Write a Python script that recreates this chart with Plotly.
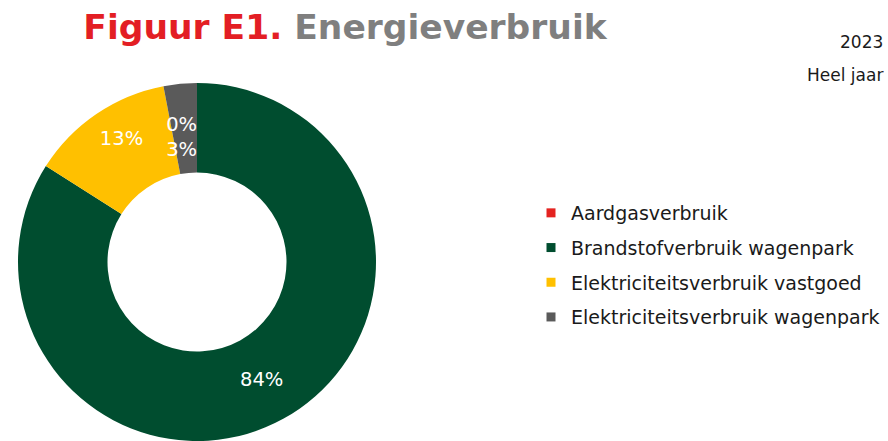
import plotly.graph_objects as go

labels = ["Aardgasverbruik", "Brandstofverbruik wagenpark",
          "Elektriciteitsverbruik vastgoed", "Elektriciteitsverbruik wagenpark"]
values = [0, 84, 13, 3]
colors = ["#E42320", "#004D2F", "#FFC000", "#5A5A5A"]
year_label = "2023"
period_label = "Heel jaar"

FONT = "DejaVu Sans"

W, H = 888, 441

total = sum(values)
pct = [f"{round(v / total * 100)}%" for v in values]
# zero-valued slice (Aardgas) has no area: its label is stacked on the adjacent small slice;
# blank lines only nudge the label block to sit like in the original
BL = "&nbsp;<br>"
texts = ["", pct[1], pct[2] + "<br>&nbsp;", BL * 3 + pct[0] + "<br>" + pct[3]]

cx, cy, r = 197, 265, 182

fig = go.Figure()
fig.add_trace(go.Pie(
    labels=labels, values=values, sort=False, direction="clockwise", rotation=0,
    hole=0.5, marker=dict(colors=colors, line=dict(width=0)),
    text=texts, textinfo="text", textposition="inside", insidetextorientation="horizontal",
    textfont=dict(family=FONT, size=19.5, color="white"),
    domain=dict(x=[(cx - r) / W, (cx + r) / W], y=[0, 1 - (cy - r) / H]),
    showlegend=False, hoverinfo="label+percent",
))

for lab, col in zip(labels, colors):
    fig.add_trace(go.Scatter(
        x=[None], y=[None], mode="markers", name=lab, legendgroup=lab,
        marker=dict(symbol="square", size=9, color=col),
        showlegend=True,
    ))

fig.update_layout(
    width=W, height=H, autosize=False,
    margin=dict(l=0, r=0, t=0, b=0),
    paper_bgcolor="white", plot_bgcolor="white",
    xaxis=dict(visible=False), yaxis=dict(visible=False),
    uniformtext=dict(minsize=19.5, mode="show"),
    title=dict(
        text="<span style='color:#E31E24'>Figuur E1.</span> Energieverbruik",
        x=345 / W, xanchor="center", y=1 - 27 / H, yanchor="middle",
        font=dict(family=FONT, size=34.5, color="#7F7F7F", weight="bold"),
    ),
    legend=dict(
        x=531 / W, xanchor="left", y=1 - 265 / H, yanchor="middle",
        font=dict(family=FONT, size=19, color="#1A1A1A"),
        traceorder="grouped", tracegroupgap=7,
        bgcolor="rgba(0,0,0,0)",
    ),
    annotations=[
        dict(text=year_label, x=885 / W, y=1 - 42 / H, xref="paper", yref="paper",
             xanchor="right", yanchor="middle", showarrow=False,
             font=dict(family=FONT, size=17, color="#1A1A1A")),
        dict(text=period_label, x=885 / W, y=1 - 75 / H, xref="paper", yref="paper",
             xanchor="right", yanchor="middle", showarrow=False,
             font=dict(family=FONT, size=17, color="#1A1A1A")),
    ],
)

fig.write_html(
    "out.html",
    config={"displayModeBar": False},
    post_script="document.body.style.margin='0';document.body.style.overflow='hidden';",
)
